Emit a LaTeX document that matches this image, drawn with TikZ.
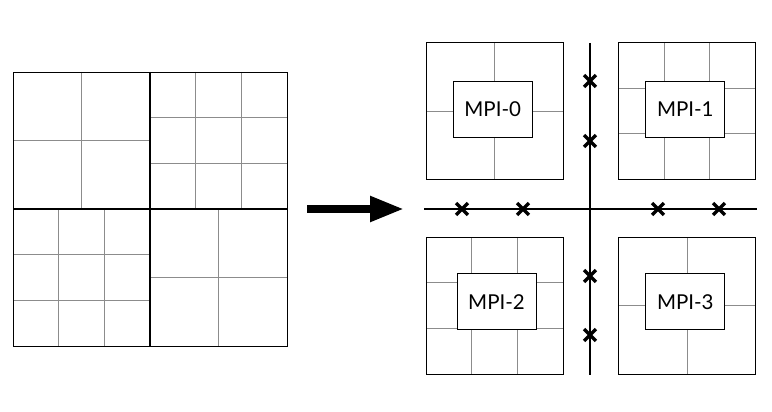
\documentclass[tikz,border=0pt]{standalone}
\usepackage{fontspec}
\setmainfont{Lato}
\usepackage{tikz}
\usetikzlibrary{arrows.meta, shapes.misc}

\tikzset{
  frame/.style={draw=black, line width=0.8pt},
  split/.style={draw=black, line width=1.8pt},
  cellline/.style={draw=black!45, line width=0.8pt},
  axis/.style={draw=black, line width=1.8pt},
  rankbox/.style={draw, fill=white, line width=0.8pt, minimum width=79pt, minimum height=56pt, font=\fontsize{20.5}{24}\selectfont},
  halo/.style={cross out, draw, line width=3.4pt, minimum size=8.5pt, inner sep=0pt},
}

% #1,#2 = top left corner, #3 = side, #4 = cells per side
\newcommand{\subgrid}[4]{%
  \pgfmathtruncatemacro{\lastk}{#4-1}
  \foreach \k in {1,...,\lastk}{
    \draw[cellline] ({#1+\k*#3/#4},#2) -- ++(0,#3);
    \draw[cellline] (#1,{#2+\k*#3/#4}) -- ++(#3,0);
  }
  \draw[frame] (#1,#2) rectangle ++(#3,#3);
}

\begin{document}
\begin{tikzpicture}[x=1pt, y=-1pt]
    \useasboundingbox (0,0) rectangle (772,412);

    % global mesh
    \subgrid{13}{72}{137}{2}
    \subgrid{150}{72}{137}{3}
    \subgrid{13}{209}{137}{3}
    \subgrid{150}{209}{137}{2}
    \draw[split] (150,72) -- (150,346);
    \draw[split] (13,209) -- (287,209);

    % arrow
    \coordinate (from) at (307,209);
    \coordinate (to) at (404,209);
    \draw[line width=8pt, -{Triangle[length=34pt, width=24pt]}] (from) -- (to);

    % partitions
    \subgrid{426}{42.5}{137}{2}
    \subgrid{618.5}{42.5}{137}{3}
    \subgrid{426}{237}{137}{3}
    \subgrid{618.5}{237}{137}{2}

    \node[rankbox] (mpi0) at (492.7,109) {MPI-0};
    \node[rankbox] (mpi1) at (685.3,109) {MPI-1};
    \node[rankbox] (mpi2) at (496.5,301.7) {MPI-2};
    \node[rankbox] (mpi3) at (685.3,301.7) {MPI-3};

    % cuts
    \coordinate (vtop) at (590,43);
    \coordinate (vbot) at (590,375);
    \coordinate (hleft) at (424,209);
    \coordinate (hright) at (757,209);
    \draw[axis] (vtop) -- (vbot);
    \draw[axis] (hleft) -- (hright);

    \foreach \x/\n in {462/h1, 523/h2, 658/h3, 719/h4}
        \node[halo] (\n) at (\x,209) {};
    \foreach \y/\n in {81/v1, 141/v2, 276/v3, 335/v4}
        \node[halo] (\n) at (590,\y) {};
\end{tikzpicture}
\end{document}
